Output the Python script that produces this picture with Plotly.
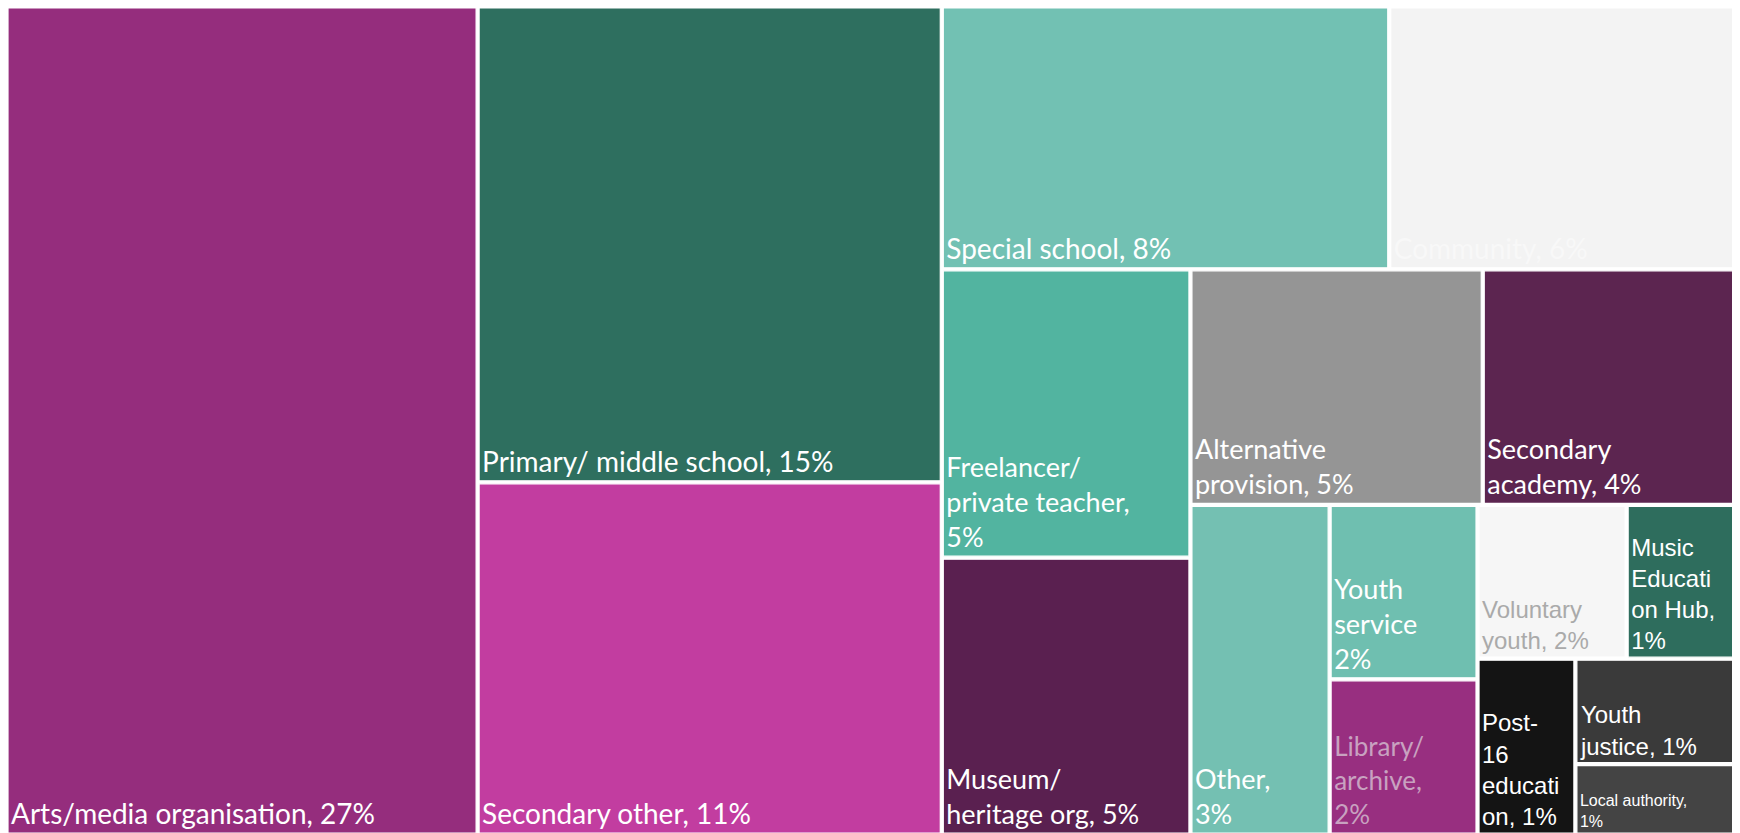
import plotly.graph_objects as go

# leaf data
labels = ["Arts/media organisation", "Primary/ middle school", "Secondary other",
          "Special school", "Community", "Freelancer/ private teacher",
          "Museum/ heritage org", "Alternative provision", "Secondary academy",
          "Other", "Youth service", "Library/ archive", "Voluntary youth",
          "Music Education Hub", "Post-16 education", "Youth justice", "Local authority"]
values = [27.2, 15.4, 11.4, 8.2, 6.4, 5.0, 4.8, 4.8, 4.2, 3.2, 1.8, 1.6, 1.6, 1.2, 1.2, 1.2, 0.8]
display = ["Arts/media organisation, 27%", "Primary/ middle school, 15%", "Secondary other, 11%",
           "Special school, 8%", "Community, 6%", "Freelancer/<br>private teacher,<br>5%",
           "Museum/<br>heritage org, 5%", "Alternative<br>provision, 5%", "Secondary<br>academy, 4%",
           "Other,<br>3%", "Youth<br>service<br>2%", "Library/<br>archive,<br>2%",
           "Voluntary<br>youth, 2%", "Music<br>Educati<br>on Hub,<br>1%",
           "Post-<br>16<br>educati<br>on, 1%", "Youth<br>justice, 1%", "Local authority,<br>1%"]
colors = ["#952d7d", "#2e6f5f", "#c23da0", "#72c1b3", "#f3f3f3", "#52b4a0",
          "#5a2050", "#959595", "#5c2550", "#74c0b2", "#6fbfb0", "#982f80",
          "#f6f6f6", "#2e6d5d", "#141414", "#3a3a3a", "#444444"]
text_colors = ["#ffffff"] * 4 + ["#f8f8f8"] + ["#ffffff"] * 6 + ["#c8a2c0", "#aaaaaa"] + ["#ffffff"] * 4
fonts = ["Lato"] * 12 + ["Liberation Sans"] * 5
sizes = [28, 28, 28, 28, 28, 27, 27, 27, 27, 27, 27, 26, 24, 24, 24, 24, 16]

# grouping of the tiles (hierarchy reproducing the reference arrangement), in drawing order
structure = [
    ("root", ""),
    ("Arts/media organisation", "root"),
    ("col2", "root"),
    ("Primary/ middle school", "col2"), ("Secondary other", "col2"),
    ("rest", "root"),
    ("toprow", "rest"),
    ("Special school", "toprow"), ("Community", "toprow"),
    ("bottom", "rest"),
    ("fmcol", "bottom"),
    ("Freelancer/ private teacher", "fmcol"), ("Museum/ heritage org", "fmcol"),
    ("rightpart", "bottom"),
    ("altrow", "rightpart"),
    ("Alternative provision", "altrow"), ("Secondary academy", "altrow"),
    ("smallrow", "rightpart"),
    ("Other", "smallrow"),
    ("ylcol", "smallrow"),
    ("Youth service", "ylcol"), ("Library/ archive", "ylcol"),
    ("grp", "smallrow"),
    ("vmrow", "grp"),
    ("Voluntary youth", "vmrow"), ("Music Education Hub", "vmrow"),
    ("pjrow", "grp"),
    ("Post-16 education", "pjrow"),
    ("jlcol", "pjrow"),
    ("Youth justice", "jlcol"), ("Local authority", "jlcol"),
]

idx = {l: i for i, l in enumerate(labels)}
ids, parents, vals, texts, fill, tcol, tfam, tsize = [], [], [], [], [], [], [], []
for node, par in structure:
    ids.append(node)
    parents.append(par)
    if node in idx:
        i = idx[node]
        vals.append(values[i]); texts.append(display[i]); fill.append(colors[i])
        tcol.append(text_colors[i]); tfam.append(fonts[i]); tsize.append(sizes[i])
    else:
        vals.append(0); texts.append(""); fill.append("#ffffff")
        tcol.append("#ffffff"); tfam.append("Lato"); tsize.append(10)

fig = go.Figure(go.Treemap(
    ids=ids,
    labels=ids,
    parents=parents,
    values=vals,
    branchvalues="remainder",
    text=texts,
    textinfo="text",
    textposition="bottom left",
    textfont=dict(color=tcol, family=tfam, size=tsize),
    marker=dict(colors=fill, line=dict(color="#ffffff", width=1.2),
                pad=dict(t=0, l=0, r=0, b=0)),
    tiling=dict(packing="slice-dice"),
    pathbar=dict(visible=False),
    sort=False,
    hoverinfo="label+value",
))
fig.update_layout(
    width=1729, height=825,
    margin=dict(l=0, r=0, t=0, b=0),
    paper_bgcolor="#ffffff",
)
fig.write_html("out.html")
